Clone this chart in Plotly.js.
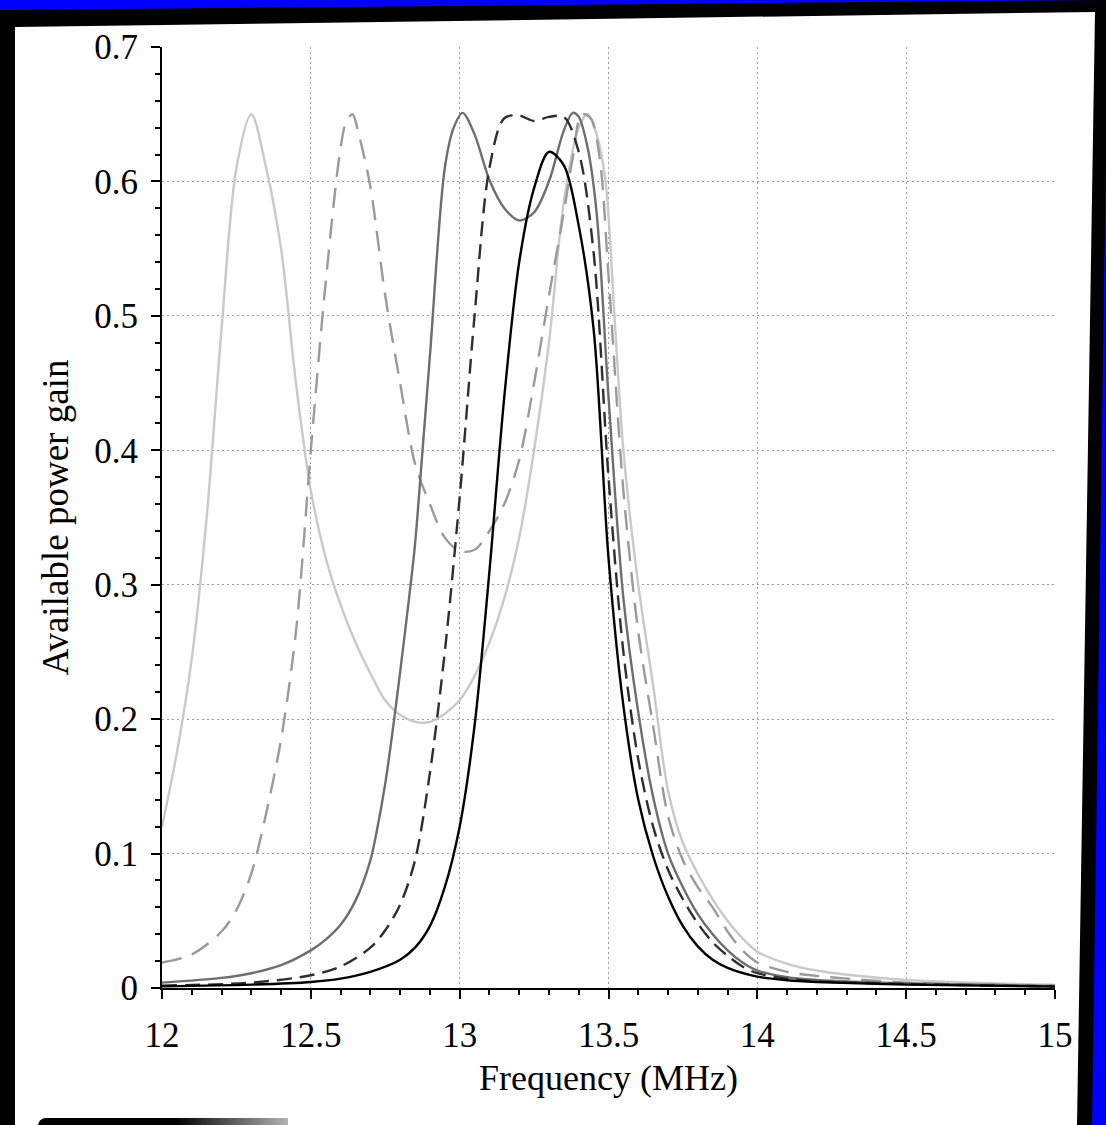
<!DOCTYPE html>
<html>
<head>
<meta charset="utf-8">
<script src="https://cdn.plot.ly/plotly-3.0.1.min.js"></script>
<style>
  html, body { margin: 0; padding: 0; width: 1106px; height: 1125px; overflow: hidden; background: #0000ff; }
  #blackframe { position: absolute; left: 0; top: 0; width: 1106px; height: 1125px; background: #000;
    clip-path: polygon(0px 10px, 1106px 0px, 1106px 150px, 1092px 1125px, 0px 1125px); }
  #whitepanel { position: absolute; left: 0; top: 0; width: 1106px; height: 1125px; background: #fff;
    clip-path: polygon(15px 27px, 1095px 12px, 1077px 1125px, 15px 1125px); }
  #bottombar { position: absolute; left: 38px; top: 1118px; width: 250px; height: 10px;
    border-top-left-radius: 8px; background: linear-gradient(to right, #000 0%, #000 55%, rgba(0,0,0,0.3) 100%); }
  #chart { position: absolute; left: 0; top: 0; width: 1106px; height: 1125px; }
</style>
</head>
<body>
<div id="blackframe"></div>
<div id="whitepanel"></div>
<div id="bottombar"></div>
<div id="chart"></div>
<script>
// Frequency (MHz) samples and available power gain
const fBlack = [12.0, 12.3, 12.5, 12.6, 12.7, 12.8, 12.85, 12.9, 12.95, 13.0, 13.05, 13.1, 13.15, 13.2, 13.25, 13.3, 13.35, 13.4, 13.45, 13.5, 13.55, 13.6, 13.65, 13.7, 13.75, 13.8, 13.85, 13.9, 14.0, 14.1, 14.2, 14.5, 15.0];
const gBlack = [0.0012, 0.0025, 0.0045, 0.007, 0.012, 0.021, 0.03, 0.046, 0.075, 0.12, 0.195, 0.31, 0.44, 0.54, 0.595, 0.622, 0.612, 0.567, 0.49, 0.32, 0.21, 0.14, 0.098, 0.068, 0.046, 0.031, 0.021, 0.015, 0.0085, 0.0058, 0.0045, 0.0025, 0.001];

const fDarkDash = [12.0, 12.3, 12.5, 12.6, 12.7, 12.75, 12.8, 12.85, 12.9, 12.95, 13.0, 13.05, 13.1, 13.15, 13.2, 13.25, 13.3, 13.35, 13.4, 13.45, 13.5, 13.55, 13.6, 13.65, 13.7, 13.75, 13.8, 13.85, 13.9, 13.95, 14.0, 14.1, 14.2, 14.5, 15.0];
const gDarkDash = [0.0018, 0.004, 0.0095, 0.016, 0.03, 0.043, 0.062, 0.095, 0.16, 0.25, 0.365, 0.5, 0.61, 0.647, 0.649, 0.645, 0.648, 0.648, 0.622, 0.547, 0.38, 0.25, 0.17, 0.12, 0.088, 0.066, 0.048, 0.034, 0.024, 0.016, 0.011, 0.007, 0.005, 0.003, 0.0012];

const fDarkGray = [12.0, 12.2, 12.3, 12.4, 12.5, 12.55, 12.6, 12.65, 12.7, 12.72, 12.75, 12.78, 12.8, 12.83, 12.85, 12.87, 12.9, 12.95, 12.98, 13.01, 13.05, 13.1, 13.15, 13.2, 13.25, 13.3, 13.35, 13.38, 13.4, 13.43, 13.46, 13.5, 13.55, 13.6, 13.65, 13.7, 13.75, 13.8, 13.85, 13.9, 13.95, 14.0, 14.1, 14.2, 14.5, 15.0];
const gDarkGray = [0.004, 0.0075, 0.011, 0.017, 0.028, 0.036, 0.047, 0.065, 0.095, 0.115, 0.152, 0.2, 0.235, 0.29, 0.33, 0.385, 0.47, 0.61, 0.64, 0.651, 0.635, 0.601, 0.58, 0.571, 0.577, 0.6, 0.638, 0.651, 0.648, 0.625, 0.577, 0.44, 0.29, 0.205, 0.142, 0.1, 0.075, 0.055, 0.04, 0.028, 0.019, 0.013, 0.008, 0.006, 0.0035, 0.0015];

const fMidDash = [12.0, 12.1, 12.2, 12.25, 12.3, 12.35, 12.4, 12.45, 12.5, 12.55, 12.6, 12.62, 12.64, 12.66, 12.7, 12.75, 12.8, 12.85, 12.9, 12.95, 13.0, 13.05, 13.1, 13.15, 13.2, 13.25, 13.3, 13.35, 13.38, 13.41, 13.44, 13.47, 13.5, 13.55, 13.6, 13.65, 13.7, 13.75, 13.8, 13.85, 13.9, 13.95, 14.0, 14.1, 14.2, 14.5, 15.0];
const gMidDash = [0.019, 0.025, 0.042, 0.058, 0.085, 0.13, 0.185, 0.265, 0.4, 0.525, 0.625, 0.645, 0.65, 0.636, 0.596, 0.515, 0.45, 0.39, 0.36, 0.335, 0.325, 0.326, 0.34, 0.36, 0.393, 0.45, 0.515, 0.577, 0.618, 0.65, 0.647, 0.618, 0.53, 0.37, 0.265, 0.195, 0.128, 0.095, 0.075, 0.06, 0.042, 0.028, 0.019, 0.012, 0.009, 0.004, 0.0018];

const fLight = [12.0, 12.05, 12.1, 12.15, 12.2, 12.25, 12.3, 12.35, 12.4, 12.45, 12.5, 12.55, 12.6, 12.65, 12.7, 12.75, 12.8, 12.85, 12.9, 12.95, 13.0, 13.05, 13.1, 13.15, 13.2, 13.25, 13.3, 13.35, 13.4, 13.43, 13.46, 13.49, 13.52, 13.55, 13.6, 13.65, 13.7, 13.75, 13.8, 13.85, 13.9, 13.95, 14.0, 14.1, 14.2, 14.5, 15.0];
const gLight = [0.12, 0.175, 0.245, 0.35, 0.49, 0.61, 0.65, 0.61, 0.55, 0.45, 0.37, 0.32, 0.285, 0.257, 0.234, 0.214, 0.203, 0.198, 0.198, 0.204, 0.214, 0.232, 0.257, 0.29, 0.335, 0.4, 0.48, 0.585, 0.64, 0.65, 0.635, 0.6, 0.5, 0.4, 0.3, 0.225, 0.147, 0.108, 0.085, 0.066, 0.05, 0.037, 0.027, 0.018, 0.013, 0.006, 0.0025];

const xTickVals = [12, 12.5, 13, 13.5, 14, 14.5, 15];
const yTickVals = [0, 0.1, 0.2, 0.3, 0.4, 0.5, 0.6, 0.7];

const xTitle = 'Frequency (MHz)';
const yTitle = 'Available power gain';

const FONT = '"Liberation Serif", "Times New Roman", serif';

function tr(x, y, color, dash, width) {
  return {
    x: x, y: y, type: 'scatter', mode: 'lines',
    line: { color: color, dash: dash, width: width, shape: 'spline', smoothing: 0.9 },
    hoverinfo: 'skip', showlegend: false
  };
}

const data = [
  tr(fLight, gLight, '#c9c9c9', 'solid', 2.4),
  tr(fMidDash, gMidDash, '#9a9a9a', '20px,11px', 2.4),
  tr(fDarkGray, gDarkGray, '#6e6e6e', 'solid', 2.4),
  tr(fDarkDash, gDarkDash, '#2e2e2e', '15px,8px', 2.4),
  tr(fBlack, gBlack, '#000000', 'solid', 2.4)
];

const layout = {
  width: 1106, height: 1125,
  margin: { l: 162, r: 51, t: 47, b: 137 },
  paper_bgcolor: 'rgba(0,0,0,0)',
  plot_bgcolor: 'rgba(0,0,0,0)',
  font: { family: FONT, color: '#000', size: 35 },
  showlegend: false,
  xaxis: {
    range: [12, 15], tickvals: xTickVals, ticktext: xTickVals.map(String),
    showline: true, linecolor: '#000', linewidth: 2,
    ticks: 'outside', ticklen: 9, tickwidth: 2, tickcolor: '#000',
    minor: { dtick: 0.1, ticks: 'outside', ticklen: 5, tickwidth: 2, tickcolor: '#000', showgrid: false },
    showgrid: true, gridcolor: '#9c9c9c', gridwidth: 1, griddash: '2px,3px',
    zeroline: false,
    tickfont: { family: FONT, size: 35, color: '#000' },
    ticklabelstandoff: 6,
    title: { text: xTitle, font: { family: FONT, size: 36, color: '#000' }, standoff: 11 },
    fixedrange: true
  },
  yaxis: {
    range: [0, 0.7], tickvals: yTickVals, ticktext: yTickVals.map(String),
    showline: true, linecolor: '#000', linewidth: 2,
    ticks: 'outside', ticklen: 9, tickwidth: 2, tickcolor: '#000',
    minor: { dtick: 0.02, ticks: 'outside', ticklen: 5, tickwidth: 2, tickcolor: '#000', showgrid: false },
    showgrid: true, gridcolor: '#9c9c9c', gridwidth: 1, griddash: '2px,3px',
    zeroline: false,
    tickfont: { family: FONT, size: 35, color: '#000' },
    ticklabelstandoff: 6,
    title: { text: yTitle, font: { family: FONT, size: 37, color: '#000' }, standoff: 14 },
    fixedrange: true
  }
};

Plotly.newPlot('chart', data, layout, { displayModeBar: false, staticPlot: true });
</script>
</body>
</html>
